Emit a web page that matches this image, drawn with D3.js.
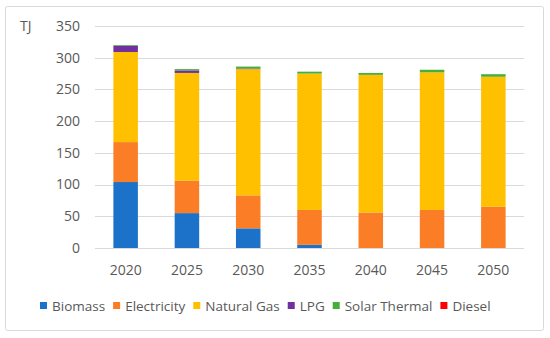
<!doctype html>
<html>
<head>
<script src="https://cdnjs.cloudflare.com/ajax/libs/d3/7.8.5/d3.min.js"></script>
<style>
  body { margin: 0; background: #fff; }
  text { font-family: "Open Sans", sans-serif; fill: #595959; }
</style>
</head>
<body>
<svg id="chart" width="550" height="338"></svg>
<script>
var years = ["2020", "2025", "2030", "2035", "2040", "2045", "2050"];
var seriesNames = ["Biomass", "Electricity", "Natural Gas", "LPG", "Solar Thermal", "Diesel"];
var colors = ["#1b72c8", "#fb7d25", "#ffc000", "#7030a0", "#47ad3b", "#ff0000"];

var biomass     = [104, 55, 31, 5, 0, 0, 0];
var electricity = [63, 51, 52, 55, 56, 60, 65];
var naturalGas  = [142, 170, 199, 215, 217, 217, 205];
var lpg         = [10, 4, 1, 0, 0, 0, 0];
var solar       = [1, 2, 3, 3, 3, 4, 4];
var diesel      = [0, 0, 0, 0, 0, 0, 0];
var yTicks = [0, 50, 100, 150, 200, 250, 300, 350];

var rows = years.map(function(y, i) {
  return { year: y, "Biomass": biomass[i], "Electricity": electricity[i], "Natural Gas": naturalGas[i],
           "LPG": lpg[i], "Solar Thermal": solar[i], "Diesel": diesel[i] };
});

var svg = d3.select("#chart");

svg.append("rect")
  .attr("x", 5.5).attr("y", 6.5).attr("width", 538).attr("height", 324)
  .attr("rx", 2)
  .attr("fill", "#fff").attr("stroke", "#d9d9d9");

var x = d3.scaleBand().domain(years).range([95, 524]).paddingInner(0.6).paddingOuter(0.3);
var y = d3.scaleLinear().domain([0, 350]).range([248, 26]);

// gridlines
svg.append("g").selectAll("line")
  .data(yTicks).enter().append("line")
  .attr("x1", 95).attr("x2", 524)
  .attr("y1", function(d) { return Math.round(y(d)) + 0.5; })
  .attr("y2", function(d) { return Math.round(y(d)) + 0.5; })
  .attr("stroke", "#d9d9d9").attr("stroke-width", 1);

// y labels
svg.append("g").selectAll("text")
  .data(yTicks).enter().append("text")
  .attr("x", 80).attr("y", function(d) { return y(d); })
  .attr("dy", "0.35em")
  .attr("text-anchor", "end")
  .attr("font-size", "14px")
  .text(function(d) { return d; });

svg.append("text").attr("x", 20).attr("y", y(350)).attr("dy", "0.35em")
  .attr("font-size", "14px").text("TJ");

var stack = d3.stack().keys(seriesNames)(rows);

svg.append("g").selectAll("g")
  .data(stack).enter().append("g")
  .attr("fill", function(d, i) { return colors[i]; })
  .selectAll("rect")
  .data(function(d) { return d; }).enter().append("rect")
  .attr("x", function(d) { return x(d.data.year); })
  .attr("width", x.bandwidth())
  .attr("y", function(d) { return y(d[1]); })
  .attr("height", function(d) { return y(d[0]) - y(d[1]); });

// x labels
svg.append("g").selectAll("text")
  .data(years).enter().append("text")
  .attr("x", function(d) { return x(d) + x.bandwidth() / 2; })
  .attr("y", 275)
  .attr("text-anchor", "middle")
  .attr("font-size", "14px")
  .text(function(d) { return d; });

// legend
var legend = svg.append("g");
var lx = 40;
seriesNames.forEach(function(name, i) {
  legend.append("rect").attr("x", lx).attr("y", 302).attr("width", 7).attr("height", 7).attr("fill", colors[i]);
  var t = legend.append("text").attr("x", lx + 12).attr("y", 310.5)
    .attr("font-size", "13.5px").text(name);
  lx += 12 + t.node().getComputedTextLength() + 8;
});
</script>
</body>
</html>
